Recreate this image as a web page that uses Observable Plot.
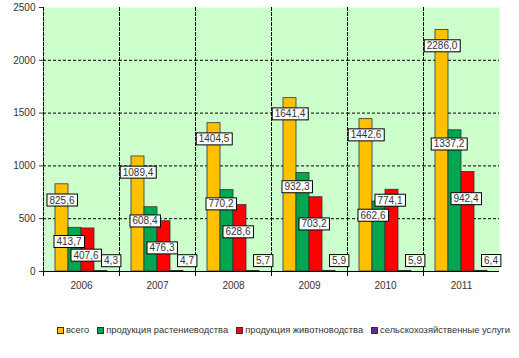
<!DOCTYPE html>
<html>
<head>
<meta charset="utf-8">
<script src="https://cdn.jsdelivr.net/npm/d3@7"></script>
<script src="https://cdn.jsdelivr.net/npm/@observablehq/plot@0.6"></script>
<style>
  body { margin: 0; background: #fff; font-family: "Liberation Sans", Arial, sans-serif; }
  #legend { display: flex; align-items: center; padding-left: 57px; margin-top: 25px; font-size: 9.35px; color: #333; white-space: nowrap; }
  #legend .item { display: flex; align-items: center; margin-right: 8px; }
  #legend .sw { width: 5px; height: 5px; border: 1px solid #333; margin-right: 2px; }
</style>
</head>
<body>
<div id="chart"></div>
<div id="legend"></div>
<script>
const years = ["2006", "2007", "2008", "2009", "2010", "2011"];
const series = ["всего", "продукция растениеводства", "продукция животноводства", "сельскохозяйственные услуги"];
const total = [825.6, 1089.4, 1404.5, 1641.4, 1442.6, 2286.0];
const crops = [413.7, 608.4, 770.2, 932.3, 662.6, 1337.2];
const livestock = [407.6, 476.3, 628.6, 703.2, 774.1, 942.4];
const services = [4.3, 4.7, 5.7, 5.9, 5.9, 6.4];
const yTicks = [0, 500, 1000, 1500, 2000, 2500];

const colors = ["#FFC000", "#00A650", "#FF0000", "#5A2D91"];
const labelOffsets = [{dx: 0, dy: 16}, {dx: -6, dy: 14}, {dx: -2, dy: 27}, {dx: 10, dy: -10}];

const valuesBySeries = [total, crops, livestock, services];
const rows = years.flatMap((yr, i) => series.map((s, j) => ({year: yr, series: s, value: valuesBySeries[j][i]})));
const fmt = v => d3.format(".1f")(v).replace(".", ",");

const labelMarks = series.map((s, j) => Plot.text(rows.filter(r => r.series === s), {
  fx: "year", x: "series", y: "value", text: d => fmt(d.value),
  dx: labelOffsets[j].dx, dy: labelOffsets[j].dy,
  fill: "#333", fontSize: 10
}));

const chart = Plot.plot({
  width: 519, height: 300,
  marginLeft: 41, marginRight: 19, marginTop: 7, marginBottom: 29,
  style: {fontFamily: "'Liberation Sans', Arial, sans-serif", fontSize: "10px", color: "#333", background: "transparent"},
  fx: {domain: years, padding: 0, label: null, axis: "bottom", tickSize: 0, tickPadding: 10},
  x: {domain: series, paddingInner: 0, paddingOuter: 0.73, axis: null},
  y: {domain: [0, 2500], ticks: yTicks, tickFormat: "d", tickSize: 4, tickPadding: 4, label: null, line: true},
  color: {domain: series, range: colors},
  marks: [
    Plot.frame({fill: "#CCFFCC", stroke: null}),
    Plot.ruleY(yTicks.slice(1, -1), {stroke: "#000", strokeDasharray: "3,2", strokeWidth: 1}),
    Plot.frame({anchor: "left", stroke: "#000", strokeDasharray: "3,2"}),
    Plot.frame({anchor: "left", stroke: "#000", insetTop: 264, insetBottom: -4}),
    Plot.barY(rows, {fx: "year", x: "series", y: "value", fill: "series", stroke: "#333", strokeWidth: 0.8}),
    Plot.ruleY([0], {stroke: "#000"}),
    ...labelMarks
  ]
});
document.getElementById("chart").appendChild(chart);

// white boxes behind data labels, nudged upward if they clearly collide with an earlier one
const placed = [];
const tol = 3;
chart.querySelectorAll('g[aria-label="text"] text').forEach(t => {
  const b = t.getBBox();
  const r = document.createElementNS("http://www.w3.org/2000/svg", "rect");
  r.setAttribute("x", b.x - 2.5);
  r.setAttribute("y", b.y - 0.5);
  r.setAttribute("width", b.width + 5);
  r.setAttribute("height", b.height + 1);
  r.setAttribute("fill", "#fff");
  r.setAttribute("stroke", "#000");
  r.setAttribute("stroke-width", 1);
  const tr = t.getAttribute("transform") || "";
  r.setAttribute("transform", tr);
  t.parentNode.insertBefore(r, t);
  let shift = 0;
  for (let k = 0; k < 10; k++) {
    const bb = r.getBoundingClientRect();
    const hit = placed.find(p => bb.left < p.right - tol && bb.right > p.left + tol && bb.top < p.bottom - tol && bb.bottom > p.top + tol);
    if (!hit) break;
    shift += bb.bottom - hit.top + 3;
    r.setAttribute("transform", `translate(0,${-shift}) ` + tr);
    t.setAttribute("transform", `translate(0,${-shift}) ` + tr);
  }
  placed.push(r.getBoundingClientRect());
});

const legend = document.getElementById("legend");
series.forEach((s, j) => {
  const item = document.createElement("div");
  item.className = "item";
  const sw = document.createElement("div");
  sw.className = "sw";
  sw.style.background = colors[j];
  const lab = document.createElement("span");
  lab.textContent = s;
  item.appendChild(sw);
  item.appendChild(lab);
  legend.appendChild(item);
});
</script>
</body>
</html>
